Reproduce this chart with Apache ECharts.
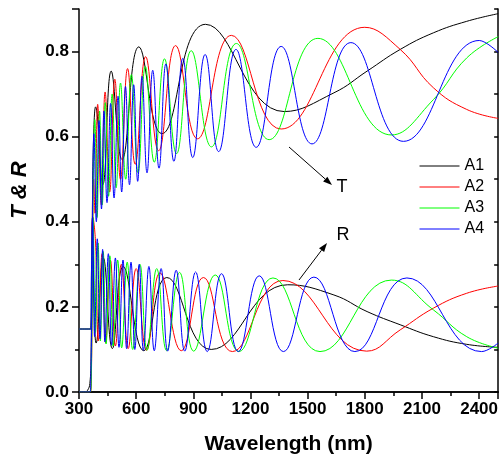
<!DOCTYPE html>
<html>
<head>
<meta charset="utf-8">
<script src="https://cdn.jsdelivr.net/npm/echarts@6/dist/echarts.min.js"></script>
<style>html,body{margin:0;padding:0;background:#fff}#c{width:501px;height:460px}</style>
</head>
<body>
<div id="c"></div>
<script>
const seriesNames = ['A1', 'A2', 'A3', 'A4'];
const seriesColors = ['#000000', '#ff0000', '#00ff00', '#0000ff'];
const xTicks = [300, 600, 900, 1200, 1500, 1800, 2100, 2400];
const yTicks = [0.0, 0.2, 0.4, 0.6, 0.8];

// Transmittance (upper band) and reflectance (lower band): [wavelength nm, value]
const a1T = [[300,0],[330,0],[345,0.004],[357,0.02],[363,0.08],[370,0.42],[378,0.62],[387,0.67],[425,0.487],[469,0.754],[526,0.546],[614,0.811],[735,0.607],[964,0.864],[1377,0.659],[1638,0.703],[1812,0.754],[1986,0.805],[2160,0.844],[2335,0.871],[2500,0.889]];
const a1R = [[300,0.148],[361,0.148],[366,0.3],[371,0.41],[379,0.22],[390,0.115],[428,0.315],[475,0.102],[532,0.295],[640,0.097],[761,0.269],[994,0.100],[1395,0.252],[1638,0.228],[1812,0.189],[1986,0.158],[2160,0.130],[2335,0.112],[2500,0.105]];

const a2T = [[300,0],[359,0],[365,0.04],[371,0.3],[377,0.5],[384,0.42],[398,0.676],[417,0.44],[437,0.705],[461,0.47],[488,0.735],[518,0.50],[555,0.76],[595,0.535],[650,0.788],[718,0.567],[807,0.814],[922,0.595],[1100,0.838],[1361,0.618],[1800,0.857],[1986,0.805],[2160,0.715],[2335,0.664],[2500,0.643]];
const a2R = [[300,0.148],[362,0.148],[367,0.3],[373,0.41],[387,0.35],[401,0.12],[421,0.325],[440,0.115],[465,0.31],[491,0.108],[522,0.30],[558,0.102],[600,0.29],[655,0.098],[725,0.28],[837,0.097],[953,0.269],[1105,0.095],[1370,0.262],[1810,0.096],[1986,0.146],[2160,0.197],[2335,0.232],[2500,0.249]];

const a3T = [[300,0],[359,0],[365,0.05],[371,0.35],[377,0.56],[383,0.64],[395,0.41],[408,0.66],[422,0.44],[438,0.68],[455,0.46],[474,0.70],[495,0.48],[518,0.726],[545,0.50],[575,0.746],[610,0.515],[648,0.765],[695,0.54],[749,0.783],[812,0.56],[889,0.802],[995,0.576],[1126,0.819],[1298,0.593],[1554,0.831],[1940,0.604],[2160,0.687],[2335,0.785],[2500,0.835]];
const a3R = [[300,0.148],[362,0.148],[367,0.3],[373,0.41],[386,0.14],[400,0.35],[412,0.12],[427,0.33],[442,0.113],[462,0.32],[479,0.108],[503,0.31],[524,0.104],[553,0.305],[582,0.10],[620,0.30],[657,0.098],[708,0.29],[760,0.097],[828,0.281],[902,0.096],[1015,0.275],[1140,0.095],[1318,0.268],[1565,0.095],[1940,0.263],[2160,0.193],[2335,0.13],[2500,0.103]];

const a4T = [[300,0],[357,0],[362,0.03],[368,0.25],[373,0.5],[378,0.607],[391,0.40],[405,0.638],[418,0.43],[431,0.66],[447,0.445],[466,0.678],[484,0.456],[505,0.695],[524,0.47],[544,0.718],[565,0.487],[587,0.722],[608,0.495],[631,0.742],[657,0.515],[687,0.756],[720,0.526],[756,0.771],[798,0.542],[845,0.784],[897,0.551],[962,0.793],[1033,0.565],[1124,0.805],[1230,0.575],[1361,0.812],[1523,0.583],[1727,0.821],[2003,0.589],[2401,0.826],[2500,0.798]];
const a4R = [[300,0.148],[361,0.148],[366,0.3],[371,0.41],[382,0.13],[396,0.36],[410,0.125],[424,0.335],[436,0.118],[454,0.325],[471,0.11],[491,0.315],[510,0.105],[531,0.31],[550,0.102],[573,0.305],[593,0.10],[616,0.30],[638,0.098],[667,0.295],[695,0.097],[731,0.29],[765,0.096],[810,0.286],[855,0.096],[912,0.282],[973,0.095],[1048,0.278],[1136,0.095],[1246,0.273],[1373,0.095],[1533,0.27],[1748,0.095],[2021,0.268],[2413,0.095],[2500,0.115]];

const tData = [a1T, a2T, a3T, a4T];
const rData = [a1R, a2R, a3R, a4R];

const FONT = 'Arial, "Liberation Sans", sans-serif';
const chart = echarts.init(document.getElementById('c'), null, {renderer: 'canvas'});

const series = [];
seriesNames.forEach((n, i) => {
  [tData[i], rData[i]].forEach(d => {
    series.push({
      name: n, type: 'line', data: d, smooth: 0.45, symbol: 'none', showSymbol: false,
      lineStyle: {color: seriesColors[i], width: 1}, itemStyle: {color: seriesColors[i]},
      animation: false, clip: true, z: 2 + i
    });
  });
});

function arrow(x1, y1, x2, y2) {
  const a = Math.atan2(y2 - y1, x2 - x1), L = 9, W = 3.2;
  const bx = x2 - L * Math.cos(a), by = y2 - L * Math.sin(a);
  return [
    {type: 'line', shape: {x1: x1, y1: y1, x2: bx, y2: by}, style: {stroke: '#000', lineWidth: 1}},
    {type: 'polygon', shape: {points: [[x2, y2], [bx + W * Math.sin(a), by - W * Math.cos(a)], [bx - W * Math.sin(a), by + W * Math.cos(a)]]}, style: {fill: '#000'}}
  ];
}

const axisLineStyle = {color: '#000', width: 1.5};
chart.setOption({
  animation: false,
  backgroundColor: '#fff',
  grid: {left: 79, right: 1, top: 9, bottom: 68},
  legend: {
    orient: 'vertical', left: 414, top: 153, itemWidth: 40, itemHeight: 14, itemGap: 5,
    itemStyle: {opacity: 0, borderWidth: 0},
    lineStyle: {width: 1},
    data: seriesNames, textStyle: {fontSize: 16, color: '#000', fontFamily: FONT, lineHeight: 16}
  },
  xAxis: [{
    type: 'value', min: 300, max: 2500, interval: 300, position: 'bottom',
    axisLine: {lineStyle: axisLineStyle},
    axisTick: {inside: false, length: 7, lineStyle: axisLineStyle},
    minorTick: {show: true, splitNumber: 2, length: 4, lineStyle: axisLineStyle},
    splitLine: {show: false}, minorSplitLine: {show: false},
    axisLabel: {margin: 9, fontSize: 17, fontWeight: 'bold', color: '#000', fontFamily: FONT, showMaxLabel: false,
      formatter: v => xTicks.includes(v) ? String(v) : ''},
    name: 'Wavelength (nm)', nameLocation: 'middle', nameGap: 42,
    nameTextStyle: {fontSize: 21, fontWeight: 'bold', color: '#000', fontFamily: FONT}
  }, {
    type: 'value', min: 300, max: 2500, interval: 150, position: 'top',
    axisLine: {lineStyle: axisLineStyle},
    axisTick: {inside: true, length: 4, lineStyle: axisLineStyle},
    axisLabel: {show: false}, splitLine: {show: false}
  }],
  yAxis: [{
    type: 'value', min: 0, max: 0.9, interval: 0.2, position: 'left',
    axisLine: {show: true, lineStyle: axisLineStyle},
    axisTick: {show: true, inside: false, length: 7, lineStyle: axisLineStyle},
    minorTick: {show: true, splitNumber: 2, length: 4, lineStyle: axisLineStyle},
    splitLine: {show: false}, minorSplitLine: {show: false},
    axisLabel: {margin: 10, fontSize: 17, fontWeight: 'bold', color: '#000', fontFamily: FONT, showMaxLabel: false,
      formatter: v => yTicks.some(t => Math.abs(t - v) < 1e-9) ? v.toFixed(1) : ''}
  }, {
    type: 'value', min: 0, max: 0.9, interval: 0.1, position: 'right',
    axisLine: {show: true, lineStyle: axisLineStyle},
    axisTick: {show: true, inside: true, length: 4, lineStyle: axisLineStyle},
    axisLabel: {show: false}, splitLine: {show: false}
  }],
  series: series,
  graphic: [
    {type: 'text', x: 20, y: 190, rotation: Math.PI / 2,
      style: {text: 'T & R', font: 'italic bold 22px ' + FONT, fill: '#000', textAlign: 'center', textVerticalAlign: 'middle'}},
    {type: 'text', x: 342, y: 187, style: {text: 'T', font: '18px ' + FONT, fill: '#000', textAlign: 'center', textVerticalAlign: 'middle'}},
    {type: 'text', x: 343, y: 235, style: {text: 'R', font: '18px ' + FONT, fill: '#000', textAlign: 'center', textVerticalAlign: 'middle'}},
    ...arrow(289, 147, 332, 185),
    ...arrow(299, 280, 327, 243)
  ]
});
</script>
</body>
</html>
